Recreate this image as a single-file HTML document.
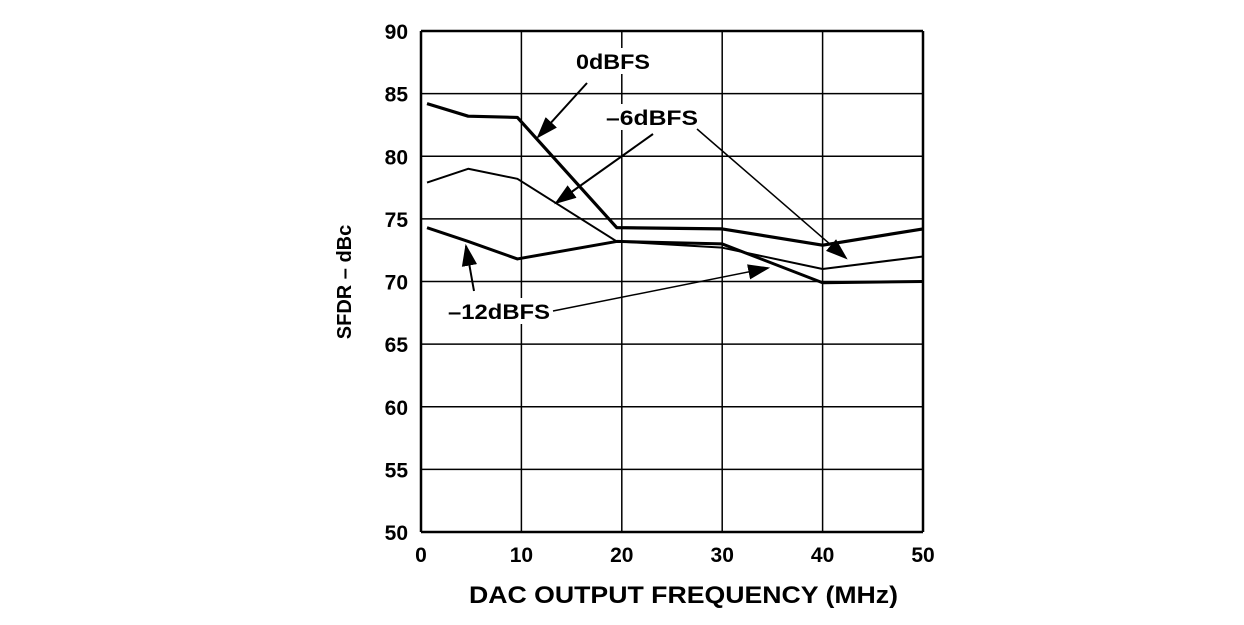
<!DOCTYPE html>
<html><head><meta charset="utf-8"><style>
body{margin:0;background:#fff;width:1244px;height:620px;overflow:hidden}
text{font-family:"Liberation Sans",Arial,sans-serif;font-weight:bold;fill:#000}
</style></head><body>
<svg id="chart" width="1244" height="620" viewBox="0 0 1244 620" xmlns="http://www.w3.org/2000/svg">
<defs>
<marker id="ah2" viewBox="0 0 10 10" refX="9" refY="5" markerWidth="22" markerHeight="22" markerUnits="userSpaceOnUse" orient="auto"><path d="M0,1.5 L10,5 L0,8.5 z"/></marker></defs>
<g id="grid"></g>
<g id="series"></g>
<g id="ann">
<rect x="572" y="48" width="82" height="26" fill="#fff"/>
<text x="576" y="69" font-size="21" textLength="74" lengthAdjust="spacingAndGlyphs">0dBFS</text>
<line x1="587" y1="83" x2="538" y2="137" stroke="#000" stroke-width="2" marker-end="url(#ah2)"/>
<rect x="602" y="104" width="100" height="26" fill="#fff"/>
<text x="606" y="125" font-size="21" textLength="92" lengthAdjust="spacingAndGlyphs">–6dBFS</text>
<line x1="653" y1="134" x2="556" y2="203" stroke="#000" stroke-width="2" marker-end="url(#ah2)"/>
<line x1="697" y1="129" x2="846" y2="258" stroke="#000" stroke-width="1.5" marker-end="url(#ah2)"/>
<rect x="444" y="298" width="110" height="26" fill="#fff"/>
<text x="448" y="319" font-size="21" textLength="102" lengthAdjust="spacingAndGlyphs">–12dBFS</text>
<line x1="474" y1="291" x2="466" y2="246" stroke="#000" stroke-width="2" marker-end="url(#ah2)"/>
<line x1="553" y1="311" x2="768" y2="268" stroke="#000" stroke-width="1.5" marker-end="url(#ah2)"/>
</g>
<text x="469" y="603" font-size="24" textLength="429" lengthAdjust="spacingAndGlyphs">DAC OUTPUT FREQUENCY (MHz)</text>
<text transform="translate(351,282) rotate(-90)" font-size="20" text-anchor="middle">SFDR – dBc</text>
</svg>
<script>
const xTicks=[0,10,20,30,40,50];
const yTicks=[50,55,60,65,70,75,80,85,90];
const freqs=[0.6,4.7,9.6,19.5,30,40,50];
const s0dBFS=[84.2,83.2,83.1,74.3,74.2,72.9,74.2];
const s6dBFS=[77.9,79.0,78.2,73.2,72.7,71.0,72.0];
const s12dBFS=[74.3,73.2,71.8,73.2,73.0,69.9,70.0];
const X0=421,X1=923,Y0=532,Y1=31;
const xs=v=>X0+(v-0)/50*(X1-X0);
const ys=v=>Y0-(v-50)/40*(Y0-Y1);
const NS="http://www.w3.org/2000/svg";
const g=document.getElementById('grid');
function mk(t,a,p){const e=document.createElementNS(NS,t);for(const k in a)e.setAttribute(k,a[k]);p.appendChild(e);return e;}
xTicks.forEach(v=>{
 const l=mk('line',{x1:xs(v),x2:xs(v),y1:Y1,y2:Y0,stroke:'#000','stroke-width':(v===0||v===50)?2.5:1.5},g);
 
 
 const t=mk('text',{x:xs(v),y:Y0+30,'font-size':21,'text-anchor':'middle'},g);t.textContent=v;
 
 
});
yTicks.forEach(v=>{
 const l=mk('line',{x1:X0,x2:X1,y1:ys(v),y2:ys(v),stroke:'#000','stroke-width':(v===50||v===90)?2.5:1.5},g);
 
 
 const t=mk('text',{x:X0-13,y:ys(v)+8,'font-size':21,'text-anchor':'end'},g);t.textContent=v;
 
 
});
const sg=document.getElementById('series');
[[s0dBFS,3.2,'line-0dbfs'],[s6dBFS,2,'line-6dbfs'],[s12dBFS,3,'line-12dbfs']].forEach(([d,w,n])=>{
 const p=mk('polyline',{points:d.map((v,i)=>xs(freqs[i])+','+ys(v)).join(' '),fill:'none',stroke:'#000','stroke-width':w,'stroke-linejoin':'round'},sg);
 
 
});
</script>
</body></html>
